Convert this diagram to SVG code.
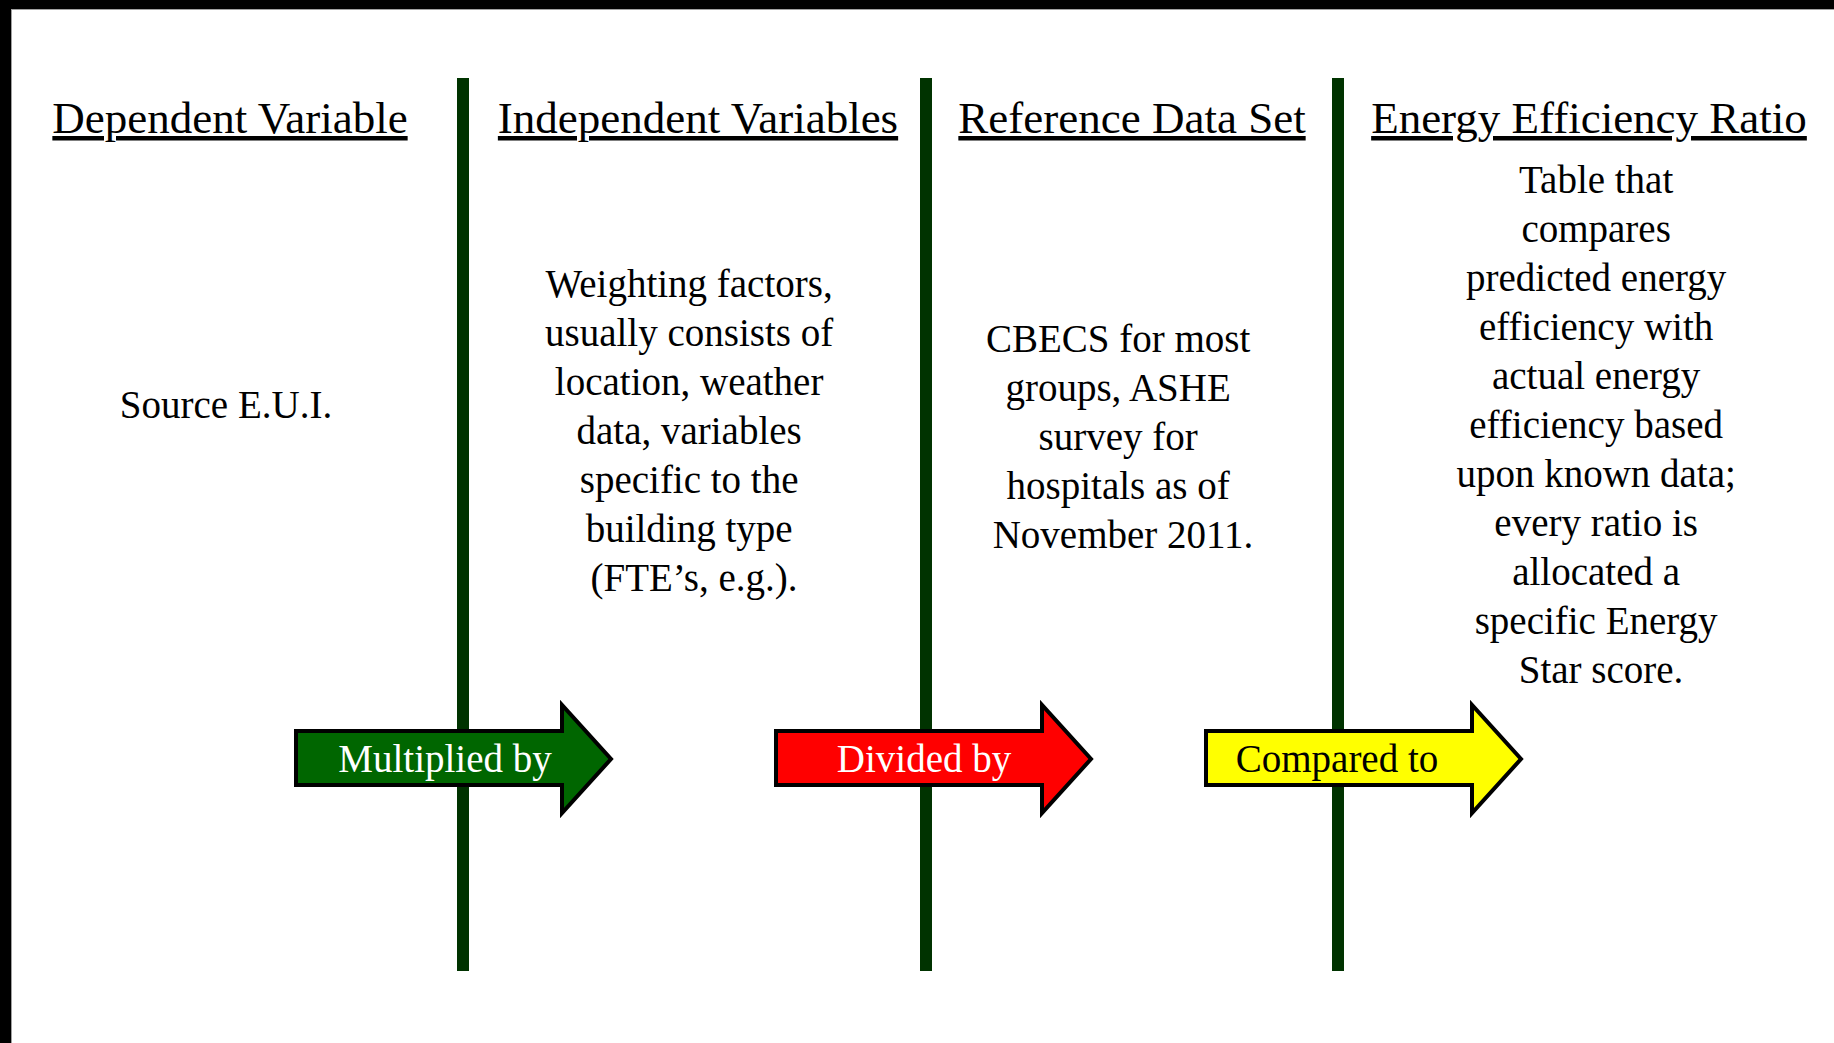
<svg xmlns="http://www.w3.org/2000/svg" width="1834" height="1043" viewBox="0 0 1834 1043">
  <style>
    .hdr { font-family: "Liberation Serif", "Times New Roman", serif; font-size: 45px; fill: #000; text-anchor: middle; text-decoration: underline; }
    .body { font-family: "Liberation Serif", "Times New Roman", serif; font-size: 39px; fill: #000; text-anchor: middle; }
    .lbl { font-family: "Liberation Serif", "Times New Roman", serif; font-size: 39px; text-anchor: middle; }
    .divider { stroke: #003300; stroke-width: 12; }
    .arrow { stroke: #000; stroke-width: 4; stroke-linejoin: miter; stroke-miterlimit: 10; }
  </style>
  <defs>
    <path id="arrowShape" d="M0,0 L266,0 L266,-26 L315,28 L266,82 L266,54 L0,54 Z"/>
  </defs>
  <rect x="0" y="0" width="1834" height="1043" fill="#ffffff"/>
  <rect x="0" y="0" width="1834" height="9" fill="#000000"/>
  <rect x="0" y="0" width="11" height="1043" fill="#000000"/>
  <line x1="11" y1="9.5" x2="1834" y2="9.5" stroke="#a0a0a0" stroke-width="1"/>
  <line x1="11.5" y1="9" x2="11.5" y2="1043" stroke="#a0a0a0" stroke-width="1"/>

  <g id="dividers">
    <line class="divider" x1="463" y1="78" x2="463" y2="971"/>
    <line class="divider" x1="926" y1="78" x2="926" y2="971"/>
    <line class="divider" x1="1338" y1="78" x2="1338" y2="971"/>
  </g>

  <g id="col-dependent">
    <text class="hdr" x="230" y="133">Dependent Variable</text>
    <text class="body" x="226" y="418">Source E.U.I.</text>
  </g>

  <g id="col-independent">
    <text class="hdr" x="698" y="133">Independent Variables</text>
    <text class="body" x="694">
      <tspan x="694" y="297">Weighting factors,</tspan>
      <tspan x="694" y="346">usually consists of</tspan>
      <tspan x="694" y="395">location, weather</tspan>
      <tspan x="694" y="444">data, variables</tspan>
      <tspan x="694" y="493">specific to the</tspan>
      <tspan x="694" y="542">building type</tspan>
      <tspan x="694" y="591">(FTE’s, e.g.).</tspan>
    </text>
  </g>

  <g id="col-reference">
    <text class="hdr" x="1132" y="133">Reference Data Set</text>
    <text class="body" x="1123">
      <tspan x="1123" y="352">CBECS for most</tspan>
      <tspan x="1123" y="401">groups, ASHE</tspan>
      <tspan x="1123" y="450">survey for</tspan>
      <tspan x="1123" y="499">hospitals as of</tspan>
      <tspan x="1123" y="548">November 2011.</tspan>
    </text>
  </g>

  <g id="col-ratio">
    <text class="hdr" x="1589" y="133">Energy Efficiency Ratio</text>
    <text class="body" x="1601">
      <tspan x="1601" y="193">Table that</tspan>
      <tspan x="1601" y="242">compares</tspan>
      <tspan x="1601" y="291">predicted energy</tspan>
      <tspan x="1601" y="340">efficiency with</tspan>
      <tspan x="1601" y="389">actual energy</tspan>
      <tspan x="1601" y="438">efficiency based</tspan>
      <tspan x="1601" y="487">upon known data;</tspan>
      <tspan x="1601" y="536">every ratio is</tspan>
      <tspan x="1601" y="585">allocated a</tspan>
      <tspan x="1601" y="634">specific Energy</tspan>
      <tspan x="1601" y="683">Star score.</tspan>
    </text>
  </g>

  <g id="connectors">
    <g id="arrow-multiplied">
      <use href="#arrowShape" x="296" y="731" class="arrow" fill="#006600"/>
      <text class="lbl" x="445" y="772" fill="#ffffff">Multiplied by</text>
    </g>
    <g id="arrow-divided">
      <use href="#arrowShape" x="776" y="731" class="arrow" fill="#ff0000"/>
      <text class="lbl" x="924" y="772" fill="#ffffff">Divided by</text>
    </g>
    <g id="arrow-compared">
      <use href="#arrowShape" x="1206" y="731" class="arrow" fill="#ffff00"/>
      <text class="lbl" x="1337" y="772" fill="#000000">Compared to</text>
    </g>
  </g>
</svg>
